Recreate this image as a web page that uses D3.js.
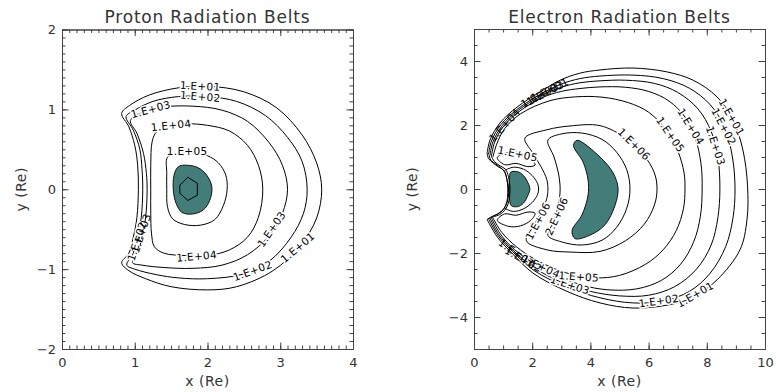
<!DOCTYPE html>
<html>
<head>
<meta charset="utf-8">
<script src="https://cdn.jsdelivr.net/npm/d3@7"></script>
<style>
  body { margin: 0; background: #fff; }
  svg { display: block; }
</style>
</head>
<body>
<div id="chart"></div>
<script>
// ---- tick values ----
const pXTicks = [0, 1, 2, 3, 4];
const pYTicks = [-2, -1, 0, 1, 2];
const eXTicks = [0, 2, 4, 6, 8, 10];
const eYTicks = [-4, -2, 0, 2, 4];

// ---- proton belt contours (x, y in Re) ----
const p1e1 = [[0.82,0.95],[0.93,1.05],[1.2,1.18],[1.6,1.27],[2.0,1.29],[2.5,1.22],[2.95,1.02],[3.3,0.68],[3.5,0.33],[3.57,0],[3.5,-0.36],[3.28,-0.7],[2.9,-1.02],[2.4,-1.22],[2.0,-1.26],[1.5,-1.22],[1.15,-1.12],[0.92,-1.02],[0.82,-0.92],[0.92,-0.8],[0.98,-0.6],[1.03,-0.35],[1.05,0],[1.04,0.3],[1.0,0.55],[0.92,0.78]];
const p1e2 = [[0.88,0.91],[1.0,0.99],[1.25,1.1],[1.6,1.16],[2.0,1.16],[2.4,1.1],[2.8,0.92],[3.1,0.65],[3.3,0.35],[3.37,0],[3.32,-0.3],[3.15,-0.6],[2.85,-0.9],[2.5,-1.06],[2.0,-1.12],[1.6,-1.11],[1.3,-1.07],[1.0,-1.0],[0.89,-0.95],[0.98,-0.8],[1.04,-0.6],[1.09,-0.35],[1.11,0],[1.1,0.25],[1.07,0.5],[0.98,0.74]];
const p1e3 = [[0.94,0.86],[1.1,0.96],[1.4,1.03],[1.8,1.04],[2.2,0.99],[2.55,0.85],[2.85,0.58],[3.03,0.3],[3.1,0],[3.03,-0.3],[2.85,-0.58],[2.55,-0.82],[2.2,-0.95],[1.8,-0.99],[1.4,-0.98],[1.1,-0.95],[0.97,-0.92],[1.04,-0.8],[1.1,-0.6],[1.15,-0.35],[1.17,0],[1.16,0.2],[1.12,0.45],[1.03,0.7]];
const p1e4 = [[1.3,0.72],[1.45,0.79],[1.7,0.82],[2.0,0.8],[2.3,0.73],[2.55,0.55],[2.7,0.3],[2.76,0],[2.7,-0.35],[2.55,-0.6],[2.3,-0.76],[2.0,-0.83],[1.7,-0.83],[1.4,-0.8],[1.27,-0.72],[1.23,-0.55],[1.22,-0.3],[1.22,0],[1.22,0.3],[1.24,0.6]];
const p1e5 = [[1.45,0.4],[1.6,0.45],[1.8,0.46],[2.0,0.42],[2.15,0.33],[2.25,0.18],[2.27,0],[2.22,-0.2],[2.1,-0.38],[1.9,-0.45],[1.68,-0.44],[1.52,-0.37],[1.45,-0.22],[1.44,0],[1.44,0.2]];
const pFill = [[1.66,0.3],[1.86,0.275],[1.99,0.175],[2.06,0.025],[2.03,-0.14],[1.94,-0.26],[1.79,-0.31],[1.65,-0.29],[1.57,-0.18],[1.53,-0.01],[1.54,0.175],[1.59,0.275]];
const pCore = [[1.73,0.15],[1.86,0.075],[1.86,-0.075],[1.73,-0.14],[1.62,-0.05],[1.62,0.05]];

// label text, x, y, rotation, halo
const pLabels = [
  ["1.E+01", 1.9, 1.29, 3, true],
  ["1.E+02", 1.9, 1.16, 5, true],
  ["1.E+03", 1.22, 1.0, -15, true],
  ["1.E+04", 1.5, 0.8, -6, true],
  ["1.E+05", 1.72, 0.47, 0, true],
  ["1.E+04", 1.85, -0.84, -5, true],
  ["1.E+03", 2.88, -0.5, -55, true],
  ["1.E+02", 2.62, -1.02, -20, true],
  ["1.E+01", 3.24, -0.73, -40, true],
  ["1.E+02", 1.03, -0.65, -72, true],
  ["1.E+03", 1.09, -0.55, -72, false]
];

// ---- electron belt contours ----
const e1e1 = [[0.45,1.12],[0.55,1.53],[0.89,2.06],[1.48,2.56],[2.27,3.03],[2.96,3.4],[3.64,3.62],[4.33,3.72],[5.46,3.78],[6.63,3.66],[7.53,3.4],[8.35,2.88],[8.9,2.16],[9.24,1.22],[9.4,0.1],[9.38,-0.97],[9.14,-1.9],[8.35,-2.84],[7.5,-3.4],[6.63,-3.63],[5.46,-3.72],[4.33,-3.56],[3.2,-3.2],[2.03,-2.63],[1.3,-2.0],[0.8,-1.5],[0.45,-0.95]];
const e1e2 = [[0.5,1.08],[0.6,1.5],[0.93,2.02],[1.5,2.5],[2.3,2.97],[3.0,3.28],[3.64,3.45],[4.33,3.53],[5.46,3.56],[6.5,3.45],[7.4,3.15],[8.1,2.65],[8.6,1.95],[8.88,1.0],[8.97,0],[8.9,-0.9],[8.65,-1.8],[8.1,-2.65],[7.4,-3.2],[6.5,-3.5],[5.46,-3.56],[4.33,-3.4],[3.2,-3.07],[2.07,-2.55],[1.33,-1.96],[0.83,-1.46],[0.5,-0.93]];
const e1e3 = [[0.55,1.05],[0.65,1.47],[0.97,1.98],[1.52,2.46],[2.33,2.92],[3.0,3.18],[3.64,3.32],[4.33,3.38],[5.2,3.4],[6.2,3.3],[7.0,3.02],[7.7,2.5],[8.15,1.8],[8.38,1.0],[8.45,0],[8.38,-0.9],[8.15,-1.75],[7.65,-2.5],[6.9,-3.05],[6.0,-3.32],[5.0,-3.34],[4.0,-3.2],[3.1,-2.95],[2.1,-2.48],[1.36,-1.93],[0.86,-1.43],[0.55,-0.91]];
const e1e4 = [[0.6,1.02],[0.7,1.44],[1.0,1.94],[1.55,2.42],[2.36,2.86],[3.0,3.05],[3.64,3.14],[4.33,3.19],[5.2,3.18],[6.0,3.05],[6.7,2.75],[7.25,2.25],[7.6,1.6],[7.8,0.8],[7.84,0],[7.78,-0.85],[7.55,-1.65],[7.1,-2.35],[6.45,-2.85],[5.6,-3.12],[4.6,-3.15],[3.7,-3.0],[2.9,-2.72],[2.2,-2.4],[1.4,-1.9],[0.9,-1.4],[0.6,-0.9]];
const e1e5 = [[0.65,1.0],[0.78,1.4],[1.05,1.88],[1.6,2.35],[2.61,2.76],[3.5,2.88],[4.4,2.87],[5.3,2.7],[6.0,2.4],[6.6,1.85],[7.0,1.2],[7.22,0.5],[7.25,0],[7.2,-0.6],[6.95,-1.3],[6.5,-1.9],[5.9,-2.35],[5.0,-2.7],[4.2,-2.78],[3.5,-2.7],[2.8,-2.5],[2.1,-2.2],[1.45,-1.8],[0.95,-1.35],[0.65,-0.9]];
const e1e6 = [[1.75,1.59],[2.5,1.85],[3.3,1.97],[4.33,1.98],[5.2,1.6],[5.8,1.1],[6.2,0.5],[6.29,0],[6.2,-0.5],[5.85,-1.1],[5.2,-1.62],[4.33,-1.95],[3.3,-1.97],[2.5,-1.9],[1.8,-1.62],[2.05,-1.15],[2.3,-0.75],[2.5,-0.3],[2.54,0],[2.5,0.3],[2.3,0.7],[2.0,1.15]];
const e2e6 = [[2.54,1.53],[3.0,1.72],[3.7,1.75],[4.4,1.55],[4.9,1.15],[5.25,0.6],[5.36,0],[5.25,-0.6],[4.9,-1.2],[4.4,-1.6],[3.7,-1.75],[3.0,-1.65],[2.54,-1.45],[2.75,-1.0],[2.9,-0.5],[2.96,0],[2.9,0.5],[2.75,1.0]];
const eOuterFill = [[3.54,1.52],[4.33,1.0],[4.78,0.5],[4.95,0.03],[4.85,-0.5],[4.5,-1.12],[3.99,-1.44],[3.47,-1.55],[3.37,-1.3],[3.71,-0.81],[3.92,-0.19],[3.92,0.28],[3.75,0.84],[3.42,1.36]];
const eInnerFill = [[1.26,0.52],[1.5,0.54],[1.7,0.42],[1.85,0.2],[1.92,0],[1.85,-0.2],[1.7,-0.44],[1.5,-0.55],[1.28,-0.52],[1.22,-0.3],[1.2,0],[1.22,0.3]];
const eInner = [[1.05,0.58],[1.35,0.68],[1.7,0.62],[2.0,0.42],[2.18,0.18],[2.22,0],[2.18,-0.18],[2.0,-0.42],[1.7,-0.62],[1.35,-0.7],[1.05,-0.6]];
const eTopLoop = [[0.8,0.98],[1.2,1.15],[1.6,1.12],[1.95,0.95],[2.1,0.75],[1.85,0.7],[1.45,0.8],[1.05,0.76]];
const eBotLoop = [[0.8,-0.98],[1.2,-1.17],[1.6,-1.15],[1.95,-0.98],[2.1,-0.76],[1.85,-0.72],[1.45,-0.82],[1.05,-0.78]];
const eNotchA = [[0.45,1.12],[0.5,0.95],[0.65,0.82],[0.82,0.7],[1.0,0.6],[1.1,0.42],[1.15,0.18],[1.16,-0.12],[1.13,-0.4],[1.02,-0.62],[0.82,-0.78],[0.62,-0.86],[0.45,-0.95]];
const eNotchB = [[0.6,1.02],[0.7,0.86],[0.9,0.72],[1.08,0.62],[1.18,0.4],[1.23,0.12],[1.23,-0.18],[1.18,-0.45],[1.06,-0.66],[0.88,-0.8],[0.7,-0.86],[0.6,-0.9]];
const eNotchC = [[0.52,1.06],[0.58,0.9],[0.75,0.78],[0.92,0.66],[1.05,0.55],[1.13,0.3],[1.19,0.0],[1.17,-0.3],[1.08,-0.55],[0.92,-0.72],[0.72,-0.82],[0.52,-0.92]];

const eLabels = [
  ["1.E+01", 8.85, 2.25, 60, true],
  ["1.E+02", 8.58, 1.95, 62, true],
  ["1.E+03", 8.3, 1.35, 72, true],
  ["1.E+04", 7.45, 1.95, 58, true],
  ["1.E+05", 6.75, 1.7, 55, true],
  ["1.E+06", 5.5, 1.4, 45, true],
  ["1.E+01", 7.6, -3.3, -30, true],
  ["1.E+02", 6.35, -3.5, -8, true],
  ["1.E+03", 3.3, -3.0, 18, true],
  ["1.E+05", 3.6, -2.74, 4, true],
  ["1.E+04", 2.3, -2.42, 25, true],
  ["1.E+06", 2.2, -1.0, -62, true],
  ["2.E+06", 2.84, -0.85, -65, true],
  ["1.E+05", 1.5, 1.1, 12, true],
  ["1.E+03", 2.45, 3.0, -28, false],
  ["1.E+02", 2.25, 2.92, -28, false],
  ["1.E+01", 2.6, 3.1, -26, false],
  ["1.E+04", 1.05, 2.0, -48, false],
  ["1.E+03", 1.45, -2.0, 35, false],
  ["1.E+02", 1.7, -2.2, 30, false]
];

const teal = "#427d7a";
const axisColor = "#444";
const textColor = "#333";
const font = "DejaVu Sans, sans-serif";

const svg = d3.select("#chart").append("svg")
  .attr("width", 777)
  .attr("height", 392);

const panels = [
  {
    title: "Proton Radiation Belts", left: 62, right: 353, top: 29.5, bottom: 349,
    xDomain: [0, 4], yDomain: [-2, 2], xTicks: pXTicks, yTicks: pYTicks,
    xMinor: d3.range(0, 41).map(i => i / 10), yMinor: d3.range(-20, 21).map(i => i / 10),
    yLabelX: 21,
    fills: [pFill], closed: [p1e1, p1e2, p1e3, p1e4, p1e5], open: [], core: pCore,
    labels: pLabels
  },
  {
    title: "Electron Radiation Belts", left: 474, right: 765, top: 29, bottom: 349,
    xDomain: [0, 10], yDomain: [-5, 5], xTicks: eXTicks, yTicks: eYTicks,
    xMinor: d3.range(0, 21).map(i => i / 2), yMinor: d3.range(-10, 11).map(i => i / 2),
    yLabelX: 412,
    fills: [eOuterFill, eInnerFill], closed: [e1e6, e2e6, eTopLoop, eBotLoop],
    open: [e1e1, e1e2, e1e3, e1e4, e1e5, eInner, eNotchA, eNotchB, eNotchC], core: null,
    labels: eLabels
  }
];

panels.forEach(p => drawPanel(p));

function drawPanel(p) {
  let x = d3.scaleLinear().domain(p.xDomain).range([p.left, p.right]);
  let y = d3.scaleLinear().domain(p.yDomain).range([p.bottom, p.top]);

  let closedLine = d3.line().x(d => x(d[0])).y(d => y(d[1])).curve(d3.curveCatmullRomClosed.alpha(0.5));
  let openLine = d3.line().x(d => x(d[0])).y(d => y(d[1])).curve(d3.curveCatmullRom.alpha(0.5));
  let polyLine = d3.line().x(d => x(d[0])).y(d => y(d[1])).curve(d3.curveLinearClosed);

  let g = svg.append("g");

  // filled belt cores
  g.selectAll(".fill")
    .data(p.fills)
    .enter().append("path")
    .attr("d", closedLine)
    .attr("fill", teal)
    .attr("stroke", "#111")
    .attr("stroke-width", 1);

  g.selectAll(".closed")
    .data(p.closed)
    .enter().append("path")
    .attr("d", closedLine)
    .attr("fill", "none")
    .attr("stroke", "#000")
    .attr("stroke-width", 1);

  g.selectAll(".open")
    .data(p.open)
    .enter().append("path")
    .attr("d", openLine)
    .attr("fill", "none")
    .attr("stroke", "#000")
    .attr("stroke-width", 1);

  if (p.core) {
    g.append("path")
      .attr("d", polyLine(p.core))
      .attr("fill", "none")
      .attr("stroke", "#000")
      .attr("stroke-width", 1);
  }

  // contour labels
  g.selectAll(".clabel")
    .data(p.labels)
    .enter().append("text")
    .attr("transform", d => "translate(" + x(d[1]) + "," + y(d[2]) + ") rotate(" + d[3] + ")")
    .attr("text-anchor", "middle")
    .attr("dy", "0.35em")
    .attr("font-family", font)
    .attr("font-size", 10.5)
    .attr("letter-spacing", 0.3)
    .attr("fill", "#000")
    .attr("stroke", d => d[4] ? "#fff" : "none")
    .attr("stroke-width", 3)
    .attr("paint-order", "stroke")
    .attr("stroke-linejoin", "round")
    .text(d => d[0]);

  // frame: major and minor ticks on all four sides, pointing inward
  let fmt = d3.format("d");
  let sides = [
    [() => d3.axisBottom(x), p.xTicks, p.xMinor, "translate(0," + p.bottom + ")", true, 9],
    [() => d3.axisTop(x), p.xTicks, p.xMinor, "translate(0," + p.top + ")", false, 6],
    [() => d3.axisLeft(y), p.yTicks, p.yMinor, "translate(" + p.left + ",0)", true, 6],
    [() => d3.axisRight(y), p.yTicks, p.yMinor, "translate(" + p.right + ",0)", false, 6]
  ];
  sides.forEach(s => {
    g.append("g")
      .attr("transform", s[3])
      .call(s[0]().tickValues(s[2]).tickSize(-3.5).tickSizeOuter(0).tickFormat(""))
      .attr("color", axisColor);
    g.append("g")
      .attr("transform", s[3])
      .call(s[0]().tickValues(s[1]).tickSize(-6.5).tickSizeOuter(0)
        .tickPadding(s[5])
        .tickFormat(s[4] ? fmt : ""))
      .attr("color", axisColor)
      .attr("font-family", font)
      .attr("font-size", 13)
      .selectAll("text").attr("fill", textColor);
  });

  // titles
  g.append("text")
    .attr("x", (p.left + p.right) / 2)
    .attr("y", 23)
    .attr("text-anchor", "middle")
    .attr("font-family", font)
    .attr("font-size", 17)
    .attr("letter-spacing", 0.8)
    .attr("fill", textColor)
    .text(p.title);

  g.append("text")
    .attr("x", (p.left + p.right) / 2)
    .attr("y", 386)
    .attr("text-anchor", "middle")
    .attr("font-family", font)
    .attr("font-size", 14)
    .attr("letter-spacing", 0.5)
    .attr("fill", textColor)
    .text("x (Re)");

  g.append("text")
    .attr("transform", "translate(" + p.yLabelX + "," + ((p.top + p.bottom) / 2) + ") rotate(-90)")
    .attr("text-anchor", "middle")
    .attr("dy", "0.35em")
    .attr("font-family", font)
    .attr("font-size", 14)
    .attr("letter-spacing", 0.5)
    .attr("fill", textColor)
    .text("y (Re)");
}
</script>
</body>
</html>
